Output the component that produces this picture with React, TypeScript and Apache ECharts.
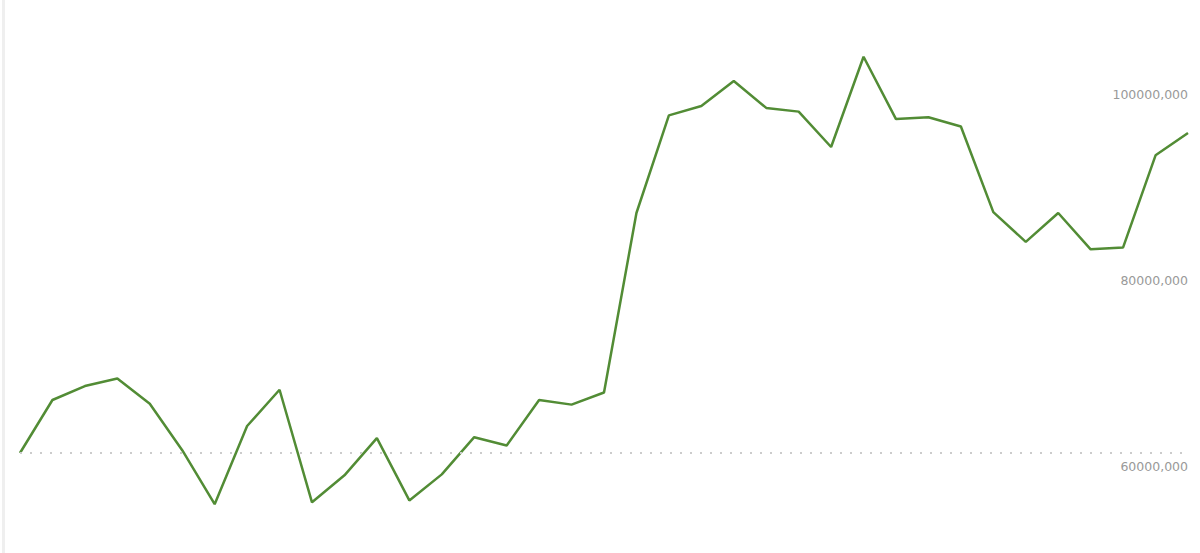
import { useEffect, useRef } from 'react'
import * as echarts from 'echarts'

// 数据
const categories: string[] = Array.from({ length: 37 }, (_, i) => String(i + 1))
const values: number[] = [
  60000000, 65700000, 67200000, 68000000, 65300000, 60300000, 54500000, 62900000, 66800000,
  54700000, 57600000, 61600000, 54900000, 57700000, 61700000, 60800000, 65700000, 65200000,
  66500000, 85800000, 96300000, 97300000, 100000000, 97100000, 96700000, 92900000, 102600000,
  95900000, 96100000, 95100000, 85900000, 82700000, 85800000, 81900000, 82100000, 92000000,
  94400000
]
const tickValues: number[] = [60000000, 80000000, 100000000]
const tickLabels: string[] = ['60000,000', '80000,000', '100000,000']
const gridValue = 60000000

const App: React.FC = () => {
  const chartContainerRef = useRef<HTMLDivElement | null>(null)

  useEffect(() => {
    if (chartContainerRef.current === null) return
    const chart = echarts.init(chartContainerRef.current, undefined, { renderer: 'svg' })
    chart.setOption({
      animation: false,
      grid: { left: 20, right: 12, top: 0, bottom: 0 },
      graphic: [
        {
          type: 'rect',
          left: 2,
          top: 0,
          shape: { width: 3, height: 553 },
          style: { fill: '#efefef' }
        }
      ],
      xAxis: {
        type: 'category',
        data: categories,
        boundaryGap: false,
        show: false
      },
      yAxis: {
        type: 'value',
        position: 'right',
        min: 49250000,
        max: 108700000,
        axisLine: { show: false },
        axisTick: { show: false },
        splitLine: { show: false },
        axisLabel: {
          inside: true,
          margin: 0,
          customValues: tickValues,
          verticalAlign: 'top',
          padding: [7, 0, 0, 0],
          color: '#999999',
          fontFamily: 'DejaVu Sans',
          fontSize: 12.5,
          formatter: (v: number) => tickLabels[tickValues.indexOf(v)] ?? ''
        }
      },
      series: [
        {
          type: 'line',
          data: values,
          symbol: 'none',
          lineStyle: { color: '#528c35', width: 2.5 },
          markLine: {
            silent: true,
            symbol: 'none',
            label: { show: false },
            lineStyle: { color: '#cccccc', type: [2, 8], width: 2 },
            data: [{ yAxis: gridValue }]
          },
          z: 3
        }
      ]
    })
    return () => {
      chart.dispose()
    }
  }, [])

  return (
    <div ref={chartContainerRef} style={{ width: 1200, height: 553, position: 'absolute', left: 0, top: 0 }}></div>
  )
}

export default App
